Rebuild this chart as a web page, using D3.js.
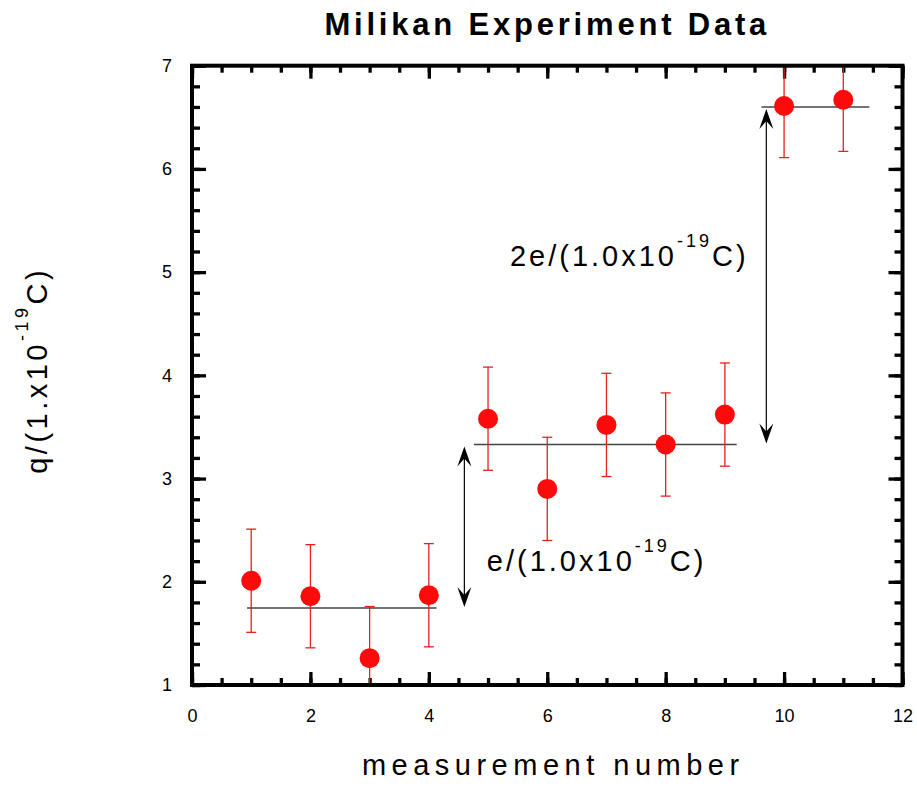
<!DOCTYPE html>
<html>
<head>
<meta charset="utf-8">
<script src="https://cdn.jsdelivr.net/npm/d3@7"></script>
<style>
  body { margin: 0; background: #fff; }
  svg { display: block; font-family: Arial, "Liberation Sans", sans-serif; }
</style>
</head>
<body>
<div id="chart"></div>
<script>
// measurement number and charge q in units of 1e-19 C
const measurement = [1, 2, 3, 4, 5, 6, 7, 8, 9, 10, 11];
const charge = [2.01, 1.86, 1.26, 1.87, 3.58, 2.9, 3.52, 3.33, 3.62, 6.61, 6.67];
const chargeErr = [0.5, 0.5, 0.5, 0.5, 0.5, 0.5, 0.5, 0.5, 0.5, 0.5, 0.5];

// level lines (start, end, level)
const levelStart = [0.93, 4.76, 9.62];
const levelEnd = [4.13, 9.2, 11.44];
const levelValue = [1.745, 3.33, 6.6];

// double arrows between levels
const arrowX = [4.6, 9.7];
const arrowFrom = [1.745, 3.33];
const arrowTo = [3.33, 6.6];

// annotation texts
const noteText = ["e/(1.0x10", "2e/(1.0x10"];
const noteX = [4.98, 5.37];
const noteY = [2.1, 5.06];

const xTickLabels = [0, 2, 4, 6, 8, 10, 12];
const yTickLabels = [1, 2, 3, 4, 5, 6, 7];

const width = 917, height = 789;
const margin = { top: 65.7, right: 14.5, bottom: 104, left: 192 };
const innerW = width - margin.left - margin.right;
const innerH = height - margin.top - margin.bottom;

const svg = d3.select("#chart").append("svg")
  .attr("width", width)
  .attr("height", height);

const x = d3.scaleLinear().domain([0, 12]).range([0, innerW]);
const y = d3.scaleLinear().domain([1, 7]).range([innerH, 0]);

const g = svg.append("g")
  .attr("transform", `translate(${margin.left},${margin.top})`);

g.append("clipPath").attr("id", "clip")
  .append("rect").attr("width", innerW).attr("height", innerH);

// ticks (inward, on all four sides)
function tickAxis(axisFn, scale, values, size, tr) {
  const a = g.append("g")
    .attr("transform", tr)
    .call(axisFn(scale).tickValues(values).tickSize(size).tickFormat(""));
  a.select(".domain").remove();
  a.selectAll("line").attr("stroke", "#000").attr("stroke-width", 3.3);
}
const xMinor = d3.range(0, 12.01, 0.5);
const yMinor = d3.range(1, 7.001, 0.2);
tickAxis(d3.axisTop, x, xMinor, 7, `translate(0,${innerH})`);
tickAxis(d3.axisTop, x, xTickLabels, 13, `translate(0,${innerH})`);
tickAxis(d3.axisBottom, x, xMinor, 7, "translate(0,0)");
tickAxis(d3.axisBottom, x, xTickLabels, 13, "translate(0,0)");
tickAxis(d3.axisRight, y, yMinor, 8, "translate(0,0)");
tickAxis(d3.axisRight, y, yTickLabels, 14, "translate(0,0)");
tickAxis(d3.axisLeft, y, yMinor, 8, `translate(${innerW},0)`);
tickAxis(d3.axisLeft, y, yTickLabels, 14, `translate(${innerW},0)`);

// tick labels
const xAx = g.append("g")
  .attr("transform", `translate(0,${innerH})`)
  .call(d3.axisBottom(x).tickValues(xTickLabels).tickSize(0).tickPadding(24).tickFormat(d3.format("d")));
xAx.select(".domain").remove();
xAx.selectAll("text").attr("font-size", 18).attr("font-family", "Arial, 'Liberation Sans', sans-serif").attr("fill", "#000");

const yAx = g.append("g")
  .call(d3.axisLeft(y).tickValues(yTickLabels).tickSize(0).tickPadding(20).tickFormat(d3.format("d")));
yAx.select(".domain").remove();
yAx.selectAll("text").attr("font-size", 18).attr("font-family", "Arial, 'Liberation Sans', sans-serif").attr("fill", "#000");

// level lines
g.selectAll(".level")
  .data(levelValue)
  .enter().append("line")
  .attr("x1", (d, i) => x(levelStart[i]))
  .attr("x2", (d, i) => x(levelEnd[i]))
  .attr("y1", d => y(d))
  .attr("y2", d => y(d))
  .attr("stroke", "#444")
  .attr("stroke-width", 1.5);

// error bars
const eb = g.append("g").attr("clip-path", "url(#clip)");
measurement.forEach((m, i) => {
  const cx = x(m);
  const lo = y(charge[i] - chargeErr[i]);
  const hi = y(charge[i] + chargeErr[i]);
  eb.append("line").attr("x1", cx).attr("x2", cx).attr("y1", lo).attr("y2", hi);
  eb.append("line").attr("x1", cx - 5).attr("x2", cx + 5).attr("y1", lo).attr("y2", lo);
  eb.append("line").attr("x1", cx - 5).attr("x2", cx + 5).attr("y1", hi).attr("y2", hi);
});
eb.selectAll("line").attr("stroke", "#e82020").attr("stroke-width", 1.3);

// points
g.selectAll(".pt")
  .data(measurement)
  .enter().append("circle")
  .attr("cx", d => x(d))
  .attr("cy", (d, i) => y(charge[i]))
  .attr("r", 10)
  .attr("fill", "#ff0a0a");

// double arrows
function head(px, py, dir) {
  // dir = -1 points up, +1 points down
  const L = 20, W = 7, N = 12;
  return `M${px},${py} L${px - W},${py - dir * L} L${px},${py - dir * N} L${px + W},${py - dir * L} Z`;
}
arrowX.forEach((ax, i) => {
  const px = x(ax);
  const top = y(arrowTo[i]) + 2;
  const bot = y(arrowFrom[i]) - 1;
  g.append("line").attr("x1", px).attr("x2", px).attr("y1", top + 10).attr("y2", bot - 10)
    .attr("stroke", "#000").attr("stroke-width", 1.2);
  g.append("path").attr("d", head(px, top, -1)).attr("fill", "#000");
  g.append("path").attr("d", head(px, bot, 1)).attr("fill", "#000");
});

// annotations
noteText.forEach((t, i) => {
  const txt = g.append("text")
    .attr("x", x(noteX[i]))
    .attr("y", y(noteY[i]))
    .attr("font-size", 29)
    .attr("letter-spacing", "3px")
    .attr("fill", "#000");
  txt.append("tspan").text(t);
  txt.append("tspan").attr("dy", -19).attr("font-size", 18).text("-19");
  txt.append("tspan").attr("dy", 19).text("C)");
});

// frame
g.append("rect")
  .attr("width", innerW)
  .attr("height", innerH)
  .attr("fill", "none")
  .attr("stroke", "#000")
  .attr("stroke-width", 4);

// title
svg.append("text")
  .attr("x", margin.left + innerW / 2)
  .attr("y", 35)
  .attr("text-anchor", "middle")
  .attr("font-size", 31)
  .attr("font-weight", "bold")
  .attr("letter-spacing", "3.8px")
  .text("Milikan Experiment Data");

// x label
svg.append("text")
  .attr("x", margin.left + innerW / 2 + 6)
  .attr("y", 775)
  .attr("text-anchor", "middle")
  .attr("font-size", 29)
  .attr("letter-spacing", "5.5px")
  .text("measurement number");

// y label
const yl = svg.append("text")
  .attr("transform", `translate(47,${margin.top + innerH / 2 - 5}) rotate(-90)`)
  .attr("text-anchor", "middle")
  .attr("font-size", 29)
  .attr("letter-spacing", "3.5px");
yl.append("tspan").text("q/(1.x10");
yl.append("tspan").attr("dy", -19).attr("font-size", 18).text("-19");
yl.append("tspan").attr("dy", 19).text("C)");
</script>
</body>
</html>
